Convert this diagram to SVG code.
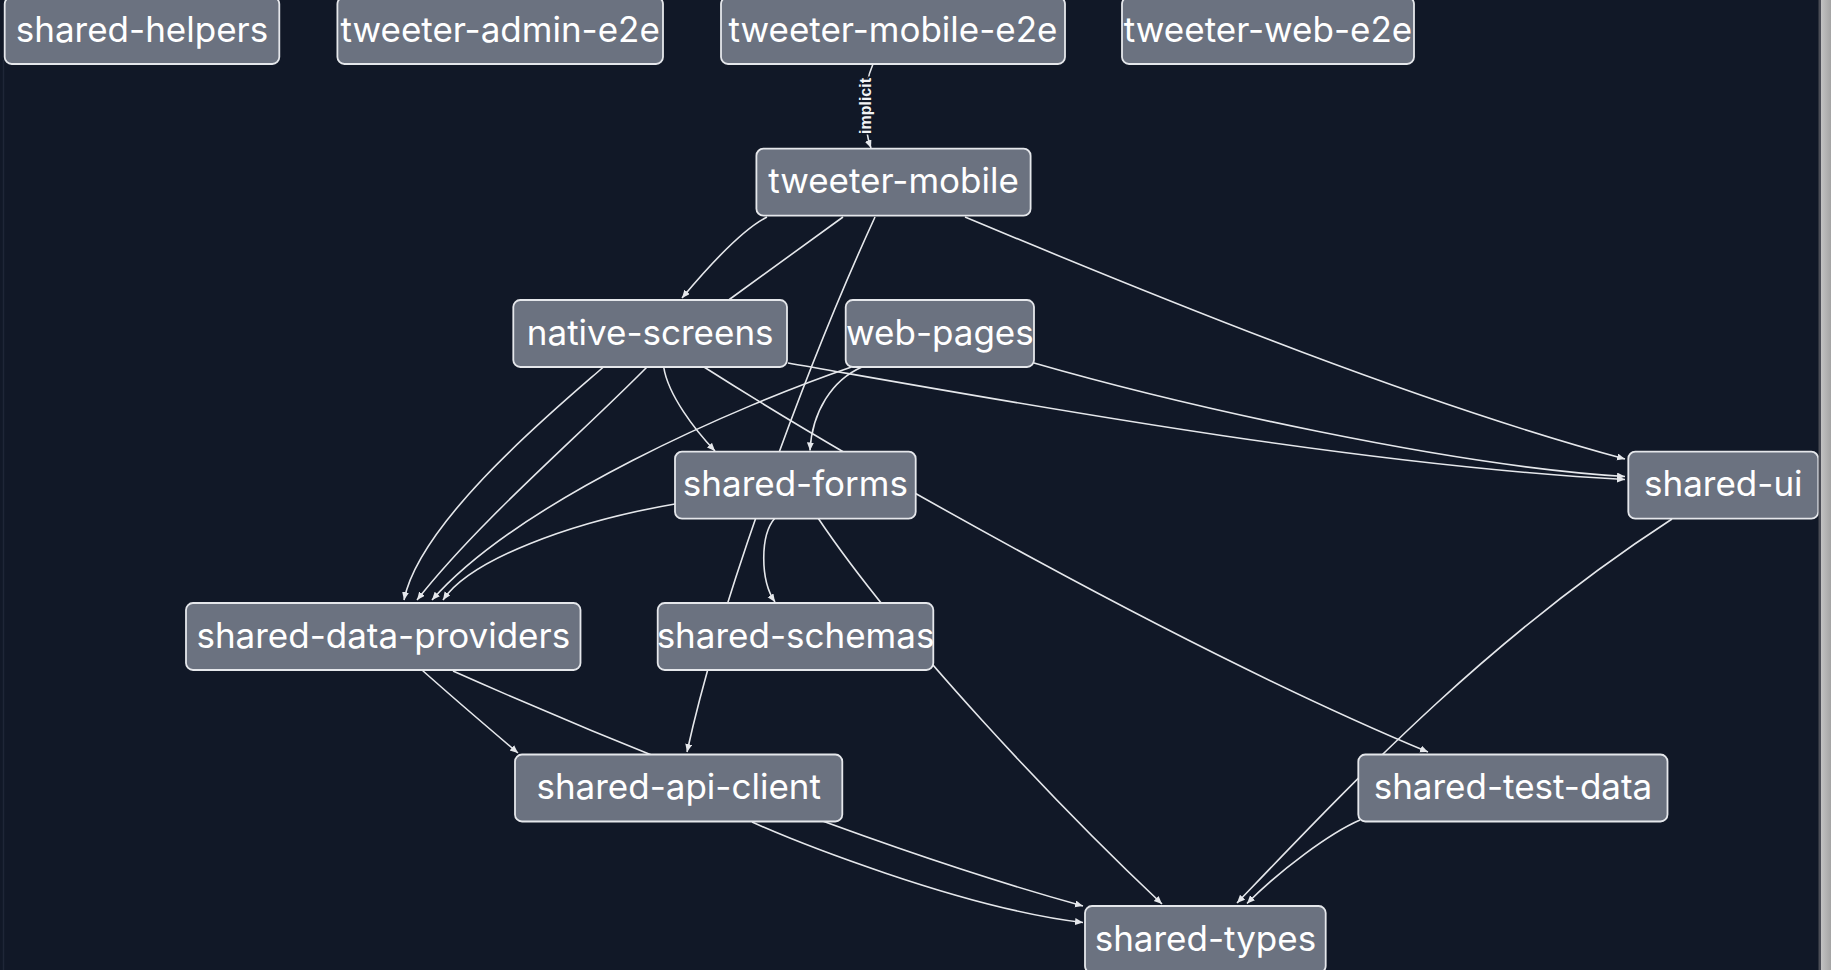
<svg xmlns="http://www.w3.org/2000/svg" width="1831" height="970" viewBox="0 0 1831 970">
<defs>
<style>
.bg{fill:#111827}
.node rect{fill:#6b7280;stroke:#e5e7eb;stroke-width:1.8}
.node text{font-family:Inter,"Noto Sans","Liberation Sans",sans-serif;font-size:35px;fill:#ffffff;text-anchor:middle}
.edges path{fill:none;stroke:#e5e7eb;stroke-width:1.6}
.lbl{font-family:"Liberation Sans",Arial,sans-serif;font-size:16px;font-weight:bold;fill:#f3f4f6;stroke:#111827;stroke-width:3;paint-order:stroke;text-anchor:middle}
</style>
<marker id="arr" markerUnits="userSpaceOnUse" markerWidth="9" markerHeight="8" refX="8" refY="3.5" orient="auto">
<path d="M0,0 L8,3.5 L0,7 Z" fill="#e5e7eb"/>
</marker>
<linearGradient id="sb" x1="0" x2="1" y1="0" y2="0">
<stop offset="0" stop-color="#c2c2c2"/>
<stop offset="1" stop-color="#a4a4a4"/>
</linearGradient>
</defs>
<rect class="bg" x="0" y="0" width="1831" height="970"/>
<line x1="3.5" y1="60" x2="3.5" y2="970" stroke="#1f2637" stroke-width="1.5"/>

<g class="edges" id="connectors">
<path d="M873,64 C866,80 865,95 865,106 C865,120 866,135 871,148" marker-end="url(#arr)"/>
<path d="M767,217 C745,228 718,255 682,298" marker-end="url(#arr)"/>
<path d="M843,217 L730,299 L647,367 C580,435 480,520 417,600" marker-end="url(#arr)"/>
<path d="M875,217 C806,367 720,602 687,752" marker-end="url(#arr)"/>
<path d="M965,217 C1185,309 1425,405 1625,459" marker-end="url(#arr)"/>
<path d="M603.5,367 C560,405 420,520 404,600" marker-end="url(#arr)"/>
<path d="M663.7,367 C668,395 695,430 715,451" marker-end="url(#arr)"/>
<path d="M704,367 C861,467 1188,652 1428,752" marker-end="url(#arr)"/>
<path d="M788,363 C1000,400 1350,465 1625,479.5" marker-end="url(#arr)"/>
<path d="M1034,363 C1180,405 1450,466 1625,476.5" marker-end="url(#arr)"/>
<path d="M851.5,367 C740,405 520,500 432,600" marker-end="url(#arr)"/>
<path d="M862,367 C832,380 812,412 810,450.5" marker-end="url(#arr)"/>
<path d="M675,504 C570,522 470,560 443,600" marker-end="url(#arr)"/>
<path d="M775,518 C760,535 760,580 775,602" marker-end="url(#arr)"/>
<path d="M818,518 C900,640 1060,808 1162,904" marker-end="url(#arr)"/>
<path d="M422,670 C450,695 485,725 518,753" marker-end="url(#arr)"/>
<path d="M453,671 C633,751 883,851 1083,906" marker-end="url(#arr)"/>
<path d="M752,822 C790,839 960,908 1083,922.5" marker-end="url(#arr)"/>
<path d="M1672,519 C1487,639 1352,783 1237,903" marker-end="url(#arr)"/>
<path d="M1360,820 C1330,833 1280,870 1247,903.5" marker-end="url(#arr)"/>
</g>
<text class="lbl" transform="translate(865,106) rotate(-90)" y="5.5">implicit</text>

<g class="node" id="shared-helpers"><rect x="4.7" y="-3" width="274.6" height="67" rx="7"/><text x="142" y="41.5">shared-helpers</text></g>
<g class="node" id="tweeter-admin-e2e"><rect x="337.4" y="-3" width="325.6" height="67" rx="7"/><text x="500.2" y="41.5">tweeter-admin-e2e</text></g>
<g class="node" id="tweeter-mobile-e2e"><rect x="721" y="-3" width="344" height="67" rx="7"/><text x="893" y="41.5">tweeter-mobile-e2e</text></g>
<g class="node" id="tweeter-web-e2e"><rect x="1122" y="-3" width="292" height="67" rx="7"/><text x="1268" y="41.5">tweeter-web-e2e</text></g>
<g class="node" id="tweeter-mobile"><rect x="756.4" y="148.7" width="274.2" height="67" rx="7"/><text x="893.5" y="193.2">tweeter-mobile</text></g>
<g class="node" id="native-screens"><rect x="513.3" y="300" width="273.7" height="67" rx="7"/><text x="650.2" y="344.5">native-screens</text></g>
<g class="node" id="web-pages"><rect x="845.7" y="300" width="188.3" height="67" rx="7"/><text x="939.9" y="344.5">web-pages</text></g>
<g class="node" id="shared-forms"><rect x="675" y="451.7" width="240.7" height="67" rx="7"/><text x="795.4" y="496.2">shared-forms</text></g>
<g class="node" id="shared-ui"><rect x="1628.3" y="451.7" width="190" height="67" rx="7"/><text x="1723.3" y="496.2">shared-ui</text></g>
<g class="node" id="shared-data-providers"><rect x="186" y="603" width="394.5" height="67" rx="7"/><text x="383.3" y="647.5">shared-data-providers</text></g>
<g class="node" id="shared-schemas"><rect x="657.7" y="603" width="275.6" height="67" rx="7"/><text x="795.5" y="647.5">shared-schemas</text></g>
<g class="node" id="shared-api-client"><rect x="515" y="754.5" width="327.3" height="67" rx="7"/><text x="678.7" y="799">shared-api-client</text></g>
<g class="node" id="shared-test-data"><rect x="1358.3" y="754.5" width="309.2" height="67" rx="7"/><text x="1513" y="799">shared-test-data</text></g>
<g class="node" id="shared-types"><rect x="1085" y="906" width="240.7" height="67" rx="7"/><text x="1205.4" y="950.5">shared-types</text></g>

<rect x="1818.5" y="0" width="2.5" height="970" fill="#4a4c55"/>
<rect x="1821" y="0" width="10" height="970" fill="url(#sb)"/>
</svg>
